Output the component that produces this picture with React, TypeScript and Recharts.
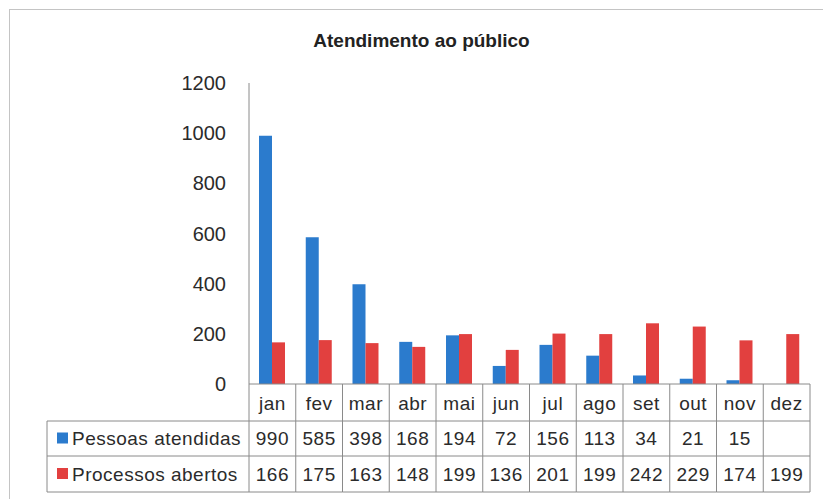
import React from 'react';
import { BarChart, Bar, XAxis, YAxis } from 'recharts';

const title = 'Atendimento ao público';
const months = ['jan', 'fev', 'mar', 'abr', 'mai', 'jun', 'jul', 'ago', 'set', 'out', 'nov', 'dez'];
const pessoasAtendidas: (number | null)[] = [990, 585, 398, 168, 194, 72, 156, 113, 34, 21, 15, null];
const processosAbertos: (number | null)[] = [166, 175, 163, 148, 199, 136, 201, 199, 242, 229, 174, 199];
const seriesNames = ['Pessoas atendidas', 'Processos abertos'];
const seriesColors = ['#2b7bcd', '#e2403f'];
const yTicks = [0, 200, 400, 600, 800, 1000, 1200];

const data = months.map((m, i) => ({
  month: m,
  pessoas: pessoasAtendidas[i],
  processos: processosAbertos[i],
}));

const FONT = '"Liberation Sans", Arial, sans-serif';
const TEXT = '#2b2b2b';
const LINE = '#8a8a8a';
const PLOT_LEFT = 249;
const PLOT_RIGHT = 810;
const TABLE_LEFT = 47;
const COL_W = (PLOT_RIGHT - PLOT_LEFT) / months.length;
const ROW1 = 37;
const ROW2 = 72;
const ROW3 = 108;

function TableTick(props: any) {
  const { x, y, payload } = props;
  const i: number = payload?.index ?? props.index ?? 0;
  const left = x - COL_W / 2;
  const right = x + COL_W / 2;
  const v1 = pessoasAtendidas[i];
  const v2 = processosAbertos[i];
  const fs = 19;
  return (
    <g fontFamily={FONT} fontSize={fs} fill={TEXT}>
      {i === 0 && (
        <g>
          <line x1={left} y1={y} x2={left} y2={y + ROW3} stroke={LINE} strokeWidth={1} />
          <line x1={TABLE_LEFT} y1={y + ROW1} x2={left} y2={y + ROW1} stroke={LINE} strokeWidth={1} />
          <line x1={TABLE_LEFT} y1={y + ROW2} x2={left} y2={y + ROW2} stroke={LINE} strokeWidth={1} />
          <line x1={TABLE_LEFT} y1={y + ROW3} x2={left} y2={y + ROW3} stroke={LINE} strokeWidth={1} />
          <line x1={TABLE_LEFT} y1={y + ROW1} x2={TABLE_LEFT} y2={y + ROW3} stroke={LINE} strokeWidth={1} />
          <rect x={57} y={y + (ROW1 + ROW2) / 2 - 6} width={11} height={11} fill={seriesColors[0]} />
          <rect x={57} y={y + (ROW2 + ROW3) / 2 - 6} width={11} height={11} fill={seriesColors[1]} />
          <text x={72} y={y + (ROW1 + ROW2) / 2} dominantBaseline="central" textAnchor="start" fill={TEXT} letterSpacing={0.5}>
            {seriesNames[0]}
          </text>
          <text x={72} y={y + (ROW2 + ROW3) / 2} dominantBaseline="central" textAnchor="start" fill={TEXT} letterSpacing={0.5}>
            {seriesNames[1]}
          </text>
        </g>
      )}
      <line x1={right} y1={y} x2={right} y2={y + ROW3} stroke={LINE} strokeWidth={1} />
      <line x1={left} y1={y + ROW1} x2={right} y2={y + ROW1} stroke={LINE} strokeWidth={1} />
      <line x1={left} y1={y + ROW2} x2={right} y2={y + ROW2} stroke={LINE} strokeWidth={1} />
      <line x1={left} y1={y + ROW3} x2={right} y2={y + ROW3} stroke={LINE} strokeWidth={1} />
      <text x={x} y={y + ROW1 / 2 + 1} dominantBaseline="central" textAnchor="middle" fill={TEXT} letterSpacing={0.5}>
        {months[i]}
      </text>
      <text x={x} y={y + (ROW1 + ROW2) / 2} dominantBaseline="central" textAnchor="middle" fill={TEXT} letterSpacing={0.5}>
        {v1 == null ? '' : String(v1)}
      </text>
      <text x={x} y={y + (ROW2 + ROW3) / 2} dominantBaseline="central" textAnchor="middle" fill={TEXT} letterSpacing={0.5}>
        {v2 == null ? '' : String(v2)}
      </text>
    </g>
  );
}

export default function App() {
  return (
    <div
      style={{
        position: 'absolute',
        left: 0,
        top: 0,
        width: 823,
        height: 499,
        overflow: 'hidden',
        background: '#ffffff',
        fontFamily: FONT,
      }}
    >
      <div
        style={{
          position: 'absolute',
          left: 9,
          top: 9,
          width: 840,
          height: 540,
          border: '1px solid #c4c4c4',
        }}
      />
      <div
        style={{
          position: 'absolute',
          left: 0,
          top: 30,
          width: 843,
          textAlign: 'center',
          fontSize: 19,
          fontWeight: 'bold',
          color: '#222222',
        }}
      >
        {title}
      </div>
      <div style={{ position: 'absolute', left: 0, top: 0 }}>
        <BarChart
          width={823}
          height={499}
          data={data}
          margin={{ top: 83, right: 823 - PLOT_RIGHT, bottom: 0, left: 0 }}
          barGap={0}
          barSize={13}
        >
          <XAxis
            dataKey="month"
            height={115}
            interval={0}
            tickSize={0}
            tickMargin={0}
            axisLine={{ stroke: LINE, strokeWidth: 1 }}
            tickLine={false}
            tick={<TableTick />}
          />
          <YAxis
            width={PLOT_LEFT}
            domain={[0, 1200]}
            ticks={yTicks}
            interval={0}
            tickSize={0}
            tickMargin={23}
            tickLine={false}
            axisLine={{ stroke: LINE, strokeWidth: 1 }}
            tick={{ fontSize: 20, fill: TEXT, fontFamily: FONT }}
          />
          <Bar dataKey="pessoas" name={seriesNames[0]} fill={seriesColors[0]} isAnimationActive={false} />
          <Bar dataKey="processos" name={seriesNames[1]} fill={seriesColors[1]} isAnimationActive={false} />
        </BarChart>
      </div>
    </div>
  );
}
